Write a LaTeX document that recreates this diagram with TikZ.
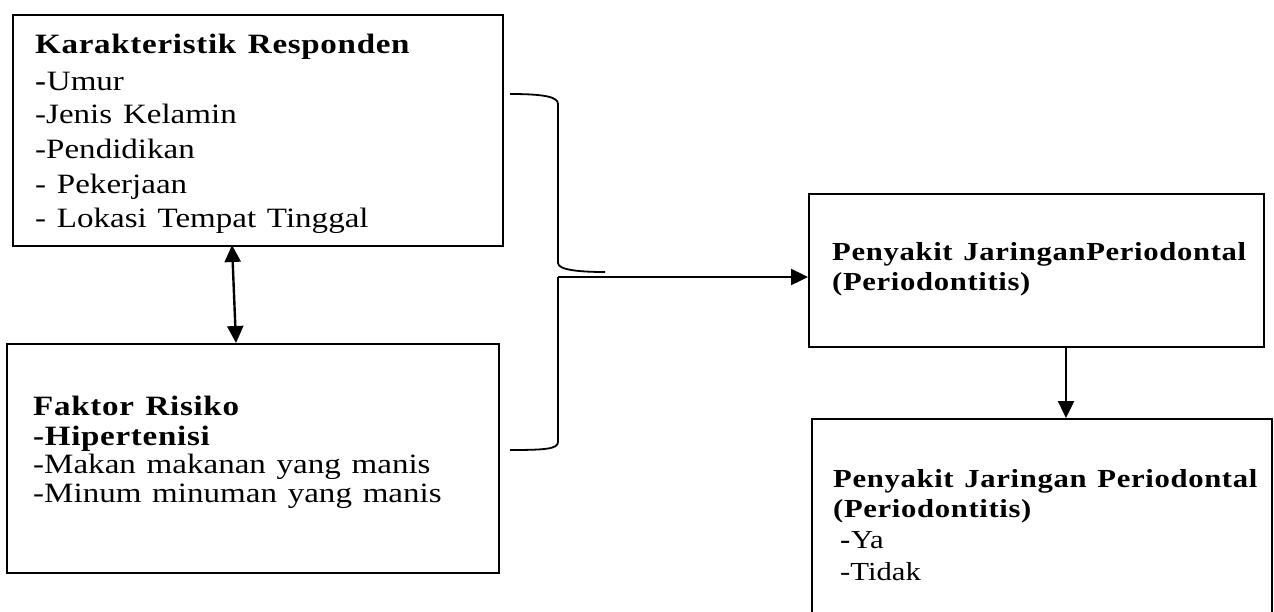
\documentclass[tikz,border=0pt]{standalone}
\usepackage{fontspec}
\setmainfont{Liberation Serif}[FakeStretch=1.18, WordSpace=1.3,
  BoldFeatures={LetterSpace=2.5}]
\usetikzlibrary{arrows.meta}
\begin{document}
\begin{tikzpicture}[x=1pt,y=-1pt,
  box/.style={draw, line width=1.6pt, rectangle, inner sep=0pt, anchor=north west},
  txt/.style={anchor=base west, inner sep=0pt, font=\fontsize{28pt}{32pt}\selectfont},
  rtxt/.style={anchor=base west, inner sep=0pt, font=\fontsize{26pt}{30pt}\selectfont},
  conn/.style={line width=2.4pt},
  tip/.style={-{Triangle[length=17pt,width=16pt]}},
  brace/.style={line width=1.8pt}]
\useasboundingbox (0,0) rectangle (1274,611);
\clip (0,0) rectangle (1274,611);
% boxes
\node[box, minimum width=490pt, minimum height=231pt] (b1) at (12,14) {};
\node[box, minimum width=492pt, minimum height=229pt] (b2) at (6,343) {};
\node[box, minimum width=455pt, minimum height=153pt] (b3) at (808,193) {};
\node[box, minimum width=460pt, minimum height=240pt] (b4) at (811,418) {};
% texts box 1
\node[txt] (k1) at (35,53) {\textbf{Karakteristik Responden}};
\node[txt] (k2) at (35,90) {\textbf{-}Umur};
\node[txt] (k3) at (35,123) {-Jenis Kelamin};
\node[txt] (k4) at (35,158) {-Pendidikan};
\node[txt] (k5) at (35,193) {- Pekerjaan};
\node[txt] (k6) at (35,227) {- Lokasi Tempat Tinggal};
% texts box 2
\node[txt] (f1) at (33,415) {\textbf{Faktor Risiko}};
\node[txt] (f2) at (33,445) {\textbf{-Hipertenisi}};
\node[txt] (f3) at (33,473) {-Makan makanan yang manis};
\node[txt] (f4) at (33,502) {-Minum minuman yang manis};
% texts box 3
\node[rtxt] (p1) at (832,260) {\textbf{Penyakit JaringanPeriodontal}};
\node[rtxt] (p2) at (832,290) {\textbf{(Periodontitis)}};
% texts box 4
\node[rtxt] (q1) at (833,487) {\textbf{Penyakit Jaringan Periodontal}};
\node[rtxt] (q2) at (833,517) {\textbf{(Periodontitis)}};
\node[rtxt] (q3) at (840,548) {\textbf{-}Ya};
\node[rtxt] (q4) at (840,580) {-Tidak};
% brace
\coordinate (bt) at (510,94);
\coordinate (bm) at (605,272);
\coordinate (bb) at (510,450);
\coordinate (bj) at (558,277);
\draw[brace] (bt) .. controls (545,94) and (558,97) .. (558,104) -- (558,263)
  .. controls (558,270) and (580,272) .. (bm);
\draw[brace] (bj) -- (558,442) .. controls (558,449) and (545,450) .. (bb);
% connectors
\draw[conn, tip] (bj) -- (b3.west |- bj);
\coordinate (a1) at (232,245);
\coordinate (a2) at (236,343);
\draw[conn, {Triangle[length=17pt,width=16pt]}-{Triangle[length=17pt,width=16pt]}] (a1) -- (a2);
\draw[conn, tip] (b3.south -| 1066,0) -- (b4.north -| 1066,0);
\end{tikzpicture}
\end{document}
